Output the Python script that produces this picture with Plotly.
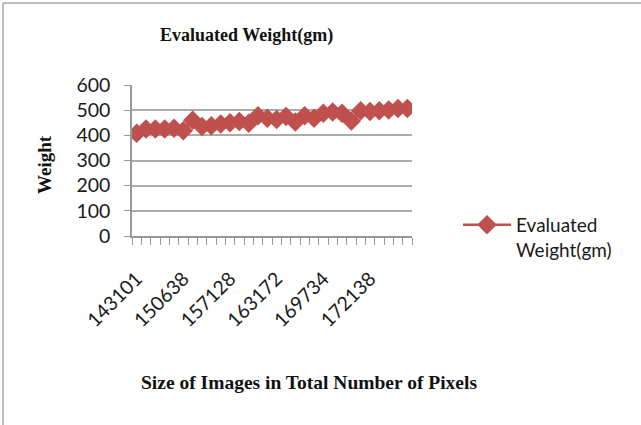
import plotly.graph_objects as go

# Evaluated weight (gm) for each image, in order of increasing pixel count
image_index = list(range(1, 31))
weights = [408, 425, 425, 425, 428, 418, 460, 435, 438, 445,
           450, 455, 448, 478, 468, 463, 475, 453, 478, 468,
           488, 493, 488, 457, 498, 495, 498, 501, 507, 507]

# Pixel counts printed under every fifth image
label_index = [1, 6, 11, 16, 21, 26]
pixel_labels = ["143101", "150638", "157128", "163172", "169734", "172138"]

W, H = 641, 425
ML, MR, MT, MB = 132, 229, 85, 189
PW, PH = W - ML - MR, H - MT - MB

RED = "#C0504D"
GRID = "#ABABAB"
AXIS = "#989898"
SERIF = "Liberation Serif"
SANS = "Lato"


def px(x):
    return (x - ML) / PW


def py(y):
    return (H - MB - y) / PH


fig = go.Figure()
fig.add_trace(go.Scatter(
    x=image_index, y=weights,
    mode="lines+markers",
    name="Evaluated<br>Weight(gm)",
    line=dict(color=RED, width=2.5),
    marker=dict(symbol="diamond", size=15, color=RED),
))

fig.update_layout(
    width=W, height=H,
    margin=dict(l=ML, r=MR, t=MT, b=MB),
    paper_bgcolor="white", plot_bgcolor="white",
    showlegend=True,
    legend=dict(
        x=px(458), y=py(206), xanchor="left", yanchor="top",
        font=dict(family=SANS, size=19, color="#1a1a1a"),
        valign="top", itemwidth=48,
        bgcolor="rgba(0,0,0,0)",
    ),
    xaxis=dict(
        range=[0.5, 30.5],
        tickvals=label_index, ticktext=pixel_labels,
        tickangle=-45,
        ticks="outside", ticklen=0, tickcolor=AXIS,
        ticklabelstandoff=22,
        minor=dict(ticks="outside", tick0=0.5, dtick=1, ticklen=7,
                   tickcolor=AXIS, tickwidth=1.2, showgrid=False),
        showgrid=False, zeroline=False,
        showline=True, linecolor=AXIS, linewidth=1.5,
        tickfont=dict(family=SANS, size=19.5, color="#1a1a1a"),
    ),
    yaxis=dict(
        range=[0, 600], dtick=100,
        ticks="outside", ticklen=6, tickcolor=AXIS, tickwidth=1.2,
        ticklabelstandoff=10,
        showgrid=True, gridcolor=GRID, gridwidth=1.8,
        zeroline=False,
        showline=True, linecolor=AXIS, linewidth=1.5,
        tickfont=dict(family=SANS, size=19.5, color="#1a1a1a"),
    ),
    annotations=[
        dict(text="<b>Evaluated Weight(gm)</b>", x=px(246), y=py(36),
             xref="paper", yref="paper", showarrow=False,
             xanchor="center", yanchor="middle",
             font=dict(family=SERIF, size=18, color="#111111")),
        dict(text="<b>Size of Images in Total Number of Pixels</b>",
             x=px(309), y=py(382), xref="paper", yref="paper",
             showarrow=False, xanchor="center", yanchor="middle",
             font=dict(family=SERIF, size=19.5, color="#111111")),
        dict(text="<b>Weight</b>", x=px(44), y=py(165),
             xref="paper", yref="paper", showarrow=False, textangle=-90,
             xanchor="center", yanchor="middle",
             font=dict(family=SERIF, size=19, color="#111111")),
    ],
    shapes=[
        dict(type="line", xref="paper", yref="paper",
             x0=px(3), x1=px(3), y0=py(3), y1=py(H),
             line=dict(color="#A8A8A8", width=1.5)),
        dict(type="line", xref="paper", yref="paper",
             x0=px(3), x1=px(W), y0=py(3), y1=py(3),
             line=dict(color="#A8A8A8", width=1.5)),
    ],
)

fig.write_html("out.html")
